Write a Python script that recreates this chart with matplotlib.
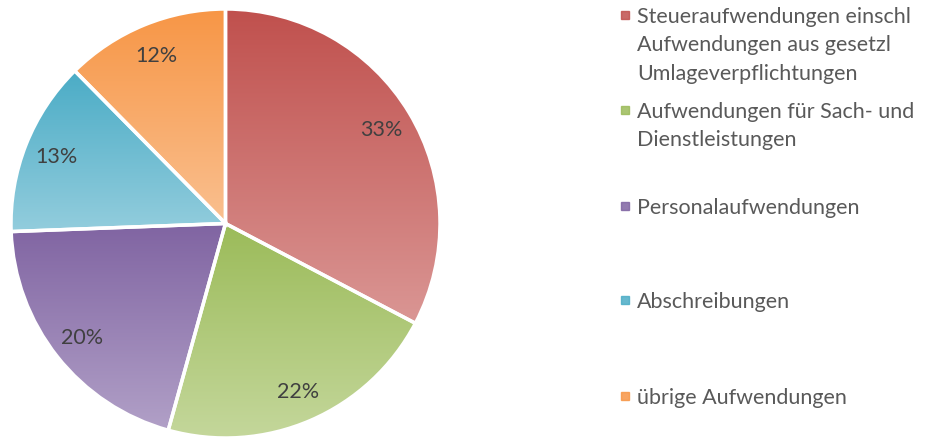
import numpy as np
import matplotlib.pyplot as plt
from matplotlib.colors import LinearSegmentedColormap

categories = [
    "Steueraufwendungen einschl\nAufwendungen aus gesetzl\nUmlageverpflichtungen",
    "Aufwendungen für Sach- und\nDienstleistungen",
    "Personalaufwendungen",
    "Abschreibungen",
    "übrige Aufwendungen",
]
values = [32.7, 21.6, 20.1, 13.2, 12.4]
top_colors = ["#C0504D", "#9BBB59", "#8064A2", "#4BACC6", "#F79646"]
bottom_colors = ["#DA9694", "#C4D79B", "#B1A0C7", "#93CDDD", "#FAC090"]

plt.rcParams["font.family"] = ["Lato", "DejaVu Sans"]

fig = plt.figure(figsize=(9.25, 4.39), dpi=100)
ax = fig.add_axes([10 / 925, 0 / 439, 431 / 925, 429 / 439])

wedges, texts, autotexts = ax.pie(
    values, startangle=90, counterclock=False, radius=1,
    autopct="%.0f%%", pctdistance=0.85,
    wedgeprops=dict(facecolor="none", edgecolor="white", linewidth=2.5),
    textprops=dict(color="#404040", fontsize=15.5),
)

grad = np.linspace(0, 1, 256).reshape(-1, 1)
for w, c_top, c_bot in zip(wedges, top_colors, bottom_colors):
    w.set_zorder(3)
    bb = w.get_path().get_extents()
    cmap = LinearSegmentedColormap.from_list("g", [c_bot, c_top])
    im = ax.imshow(grad, cmap=cmap, origin="lower", aspect="auto",
                   extent=[bb.x0, bb.x1, bb.y0, bb.y1], zorder=1)
    im.set_clip_path(w)
for t in autotexts:
    t.set_zorder(5)

ax.set_xlim(-1, 1)
ax.set_ylim(-1, 1)
ax.set_aspect("equal")
ax.axis("off")

# legend, laid out like the original (one text per line)
entry_baseline = [23, 118, 214, 308, 404]
line_step = 28.5
for label, y, c_top in zip(categories, entry_baseline, top_colors):
    fig.patches.append(plt.Rectangle((621 / 925, 1 - (y - 3) / 439), 8 / 925, 8 / 439,
                                     transform=fig.transFigure, color=c_top, alpha=0.85))
    for i, line in enumerate(label.split("\n")):
        fig.text(637 / 925, 1 - (y + i * line_step) / 439, line, color="#595959",
                 fontsize=15.5, va="baseline", ha="left")

fig.savefig("out.png", dpi=100)
